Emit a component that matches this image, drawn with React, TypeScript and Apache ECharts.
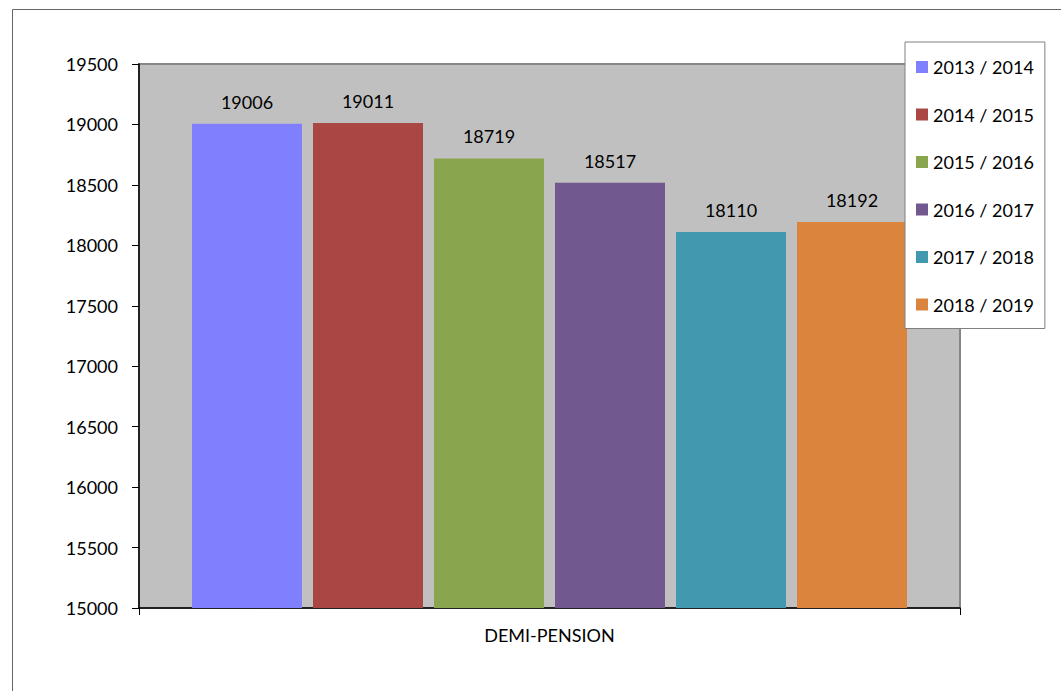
import React, { useEffect, useRef } from "react";
import * as echarts from "echarts";

const categories = ["DEMI-PENSION"];
const seriesNames = ["2013 / 2014", "2014 / 2015", "2015 / 2016", "2016 / 2017", "2017 / 2018", "2018 / 2019"];
const seriesValues = [19006, 19011, 18719, 18517, 18110, 18192];
const seriesColors = ["#8080FF", "#AA4643", "#89A54E", "#71588F", "#4198AF", "#DB843D"];

const FONT = "Lato, 'Open Sans', sans-serif";

export default function App() {
  const ref = useRef<HTMLDivElement>(null);
  useEffect(() => {
    if (!ref.current) return;
    const chart = echarts.init(ref.current, null, { renderer: "svg" });
    chart.setOption({
      animation: false,
      backgroundColor: "#ffffff",
      textStyle: { fontFamily: FONT },
      graphic: [
        { type: "line", shape: { x1: 12.5, y1: 9.5, x2: 1061, y2: 9.5 }, style: { stroke: "#666666", lineWidth: 1 } },
        { type: "line", shape: { x1: 12.5, y1: 9.5, x2: 12.5, y2: 691 }, style: { stroke: "#666666", lineWidth: 1 } },
      ],
      grid: {
        left: 139,
        right: 101,
        top: 64,
        bottom: 83,
        show: true,
        backgroundColor: "#c0c0c0",
        borderColor: "#868686",
        borderWidth: 2,
      },
      legend: {
        orient: "vertical",
        left: 905,
        top: 42,
        padding: [15, 11, 14, 11],
        itemWidth: 12,
        itemHeight: 12,
        itemGap: 27.5,
        icon: "rect",
        backgroundColor: "#ffffff",
        borderColor: "#808080",
        borderWidth: 1,
        textStyle: { fontSize: 18, color: "#000000", fontFamily: FONT, lineHeight: 20 },
        data: seriesNames,
      },
      xAxis: {
        type: "category",
        data: categories,
        axisLine: { lineStyle: { color: "#000000", width: 1.5 } },
        axisTick: { show: true, length: 7, lineStyle: { color: "#000000" } },
        axisLabel: { fontSize: 18, color: "#000000", margin: 18, fontFamily: FONT },
      },
      yAxis: {
        type: "value",
        min: 15000,
        max: 19500,
        interval: 500,
        axisLine: { show: true, lineStyle: { color: "#000000", width: 1.5 } },
        axisTick: { show: true, length: 7, lineStyle: { color: "#000000" } },
        splitLine: { show: false },
        axisLabel: {
          fontSize: 18,
          color: "#000000",
          margin: 21,
          fontFamily: FONT,
          formatter: (v: number) => String(v),
        },
      },
      series: seriesNames.map((name, i) => ({
        type: "bar",
        name,
        data: [seriesValues[i]],
        barWidth: 110,
        barGap: "10%",
        itemStyle: { color: seriesColors[i] },
        label: {
          show: true,
          position: "top",
          distance: 13,
          fontSize: 18,
          color: "#000000",
          fontFamily: FONT,
        },
      })),
    });
    return () => chart.dispose();
  }, []);
  return (
    <div
      ref={ref}
      style={{ position: "fixed", left: 0, top: 0, width: 1061, height: 691 }}
    />
  );
}
